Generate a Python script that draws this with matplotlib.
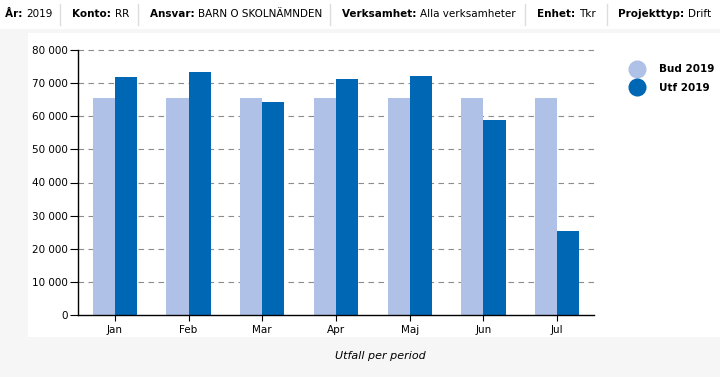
import matplotlib
matplotlib.use("Agg")
import matplotlib.pyplot as plt
from matplotlib.patches import Rectangle
from matplotlib.lines import Line2D
import numpy as np

months = ["Jan", "Feb", "Mar", "Apr", "Maj", "Jun", "Jul"]
bud_2019 = [65500, 65500, 65500, 65500, 65500, 65500, 65500]
utf_2019 = [71800, 73400, 64300, 71200, 72200, 58900, 25400]
yticks = [0, 10000, 20000, 30000, 40000, 50000, 60000, 70000, 80000]
header_items = [("År:", "2019"), ("Konto:", "RR"), ("Ansvar:", "BARN O SKOLNÄMNDEN"),
                ("Verksamhet:", "Alla verksamheter"), ("Enhet:", "Tkr"), ("Projekttyp:", "Drift")]
legend_labels = ["Bud 2019", "Utf 2019"]
xlabel = "Utfall per period"

W, H = 720, 377
fig = plt.figure(figsize=(W / 100, H / 100), dpi=100)
fig.patch.set_facecolor("#f6f6f6")

def px(x, y, w, h):
    return [x / W, 1 - (y + h) / H, w / W, h / H]

# header strip and chart panel
fig.patches.append(Rectangle((0, 1 - 29 / H), 1, 29 / H, transform=fig.transFigure,
                             facecolor="white", edgecolor="none", zorder=-5))
fig.patches.append(Rectangle((28 / W, 1 - 337 / H), 1 - 28 / W, (337 - 33) / H, transform=fig.transFigure,
                             facecolor="white", edgecolor="none", zorder=-5))

light = "#afc1e6"
dark = "#0067b4"

ax = fig.add_axes(px(78, 50, 516, 265))
ax.set_zorder(2)
ax.set_facecolor("white")
x = np.arange(len(months))
w = 0.3
ax.bar(x - w / 2, bud_2019, width=w, color=light, zorder=2)
ax.bar(x + w / 2, utf_2019, width=w, color=dark, zorder=2)
ax.set_xlim(-0.5, len(months) - 0.5)
ax.set_ylim(0, 80000)
ax.set_yticks(yticks)
ax.set_yticklabels([f"{v:,}".replace(",", " ") for v in yticks])
ax.set_xticks(x)
ax.set_xticklabels(months)
for v in yticks[1:]:
    ax.axhline(v, color="#8c8c8c", lw=0.8, ls=(0, (5, 4)), zorder=1, clip_on=False)
for s in ["top", "right"]:
    ax.spines[s].set_visible(False)
ax.spines["left"].set_color("black")
ax.spines["bottom"].set_color("black")
ax.spines["left"].set_linewidth(1.0)
ax.spines["bottom"].set_linewidth(1.0)
ax.tick_params(axis="y", length=6, width=0.8, labelsize=7.5, pad=1.5, colors="black")
ax.tick_params(axis="x", length=4, width=0.8, labelsize=7.5, pad=3, colors="black")

# legend
handles = [Line2D([], [], marker="o", ls="none", markersize=12, color=light),
           Line2D([], [], marker="o", ls="none", markersize=12, color=dark)]
leg = fig.legend(handles, legend_labels, loc="upper left", bbox_to_anchor=(626 / W, 1 - 59 / H),
                 frameon=False, prop={"size": 7.5, "weight": "bold"}, handletextpad=1.5,
                 labelspacing=0.85, handlelength=1.2, borderpad=0)

fig.text(380 / W, 1 - 356 / H, xlabel, ha="center", va="center", fontsize=8, style="italic")

# header
fig.canvas.draw()
r = fig.canvas.get_renderer()
starts = [5, 72, 150, 342, 537, 618]
dividers = [60, 138, 330, 525, 607]
hy = 1 - 14 / H
for (lab, val), sx in zip(header_items, starts):
    t = fig.text(sx / W, hy, lab + " ", fontsize=7.5, weight="bold", va="center", ha="left")
    bb = t.get_window_extent(renderer=r)
    fig.text(bb.x1 / W, hy, val, fontsize=7.5, va="center", ha="left")
for d in dividers:
    fig.lines.append(Line2D([d / W, d / W], [1 - 25 / H, 1 - 4 / H], transform=fig.transFigure,
                            color="#dddddd", lw=1))

fig.savefig("out.png", dpi=100, facecolor=fig.get_facecolor())
